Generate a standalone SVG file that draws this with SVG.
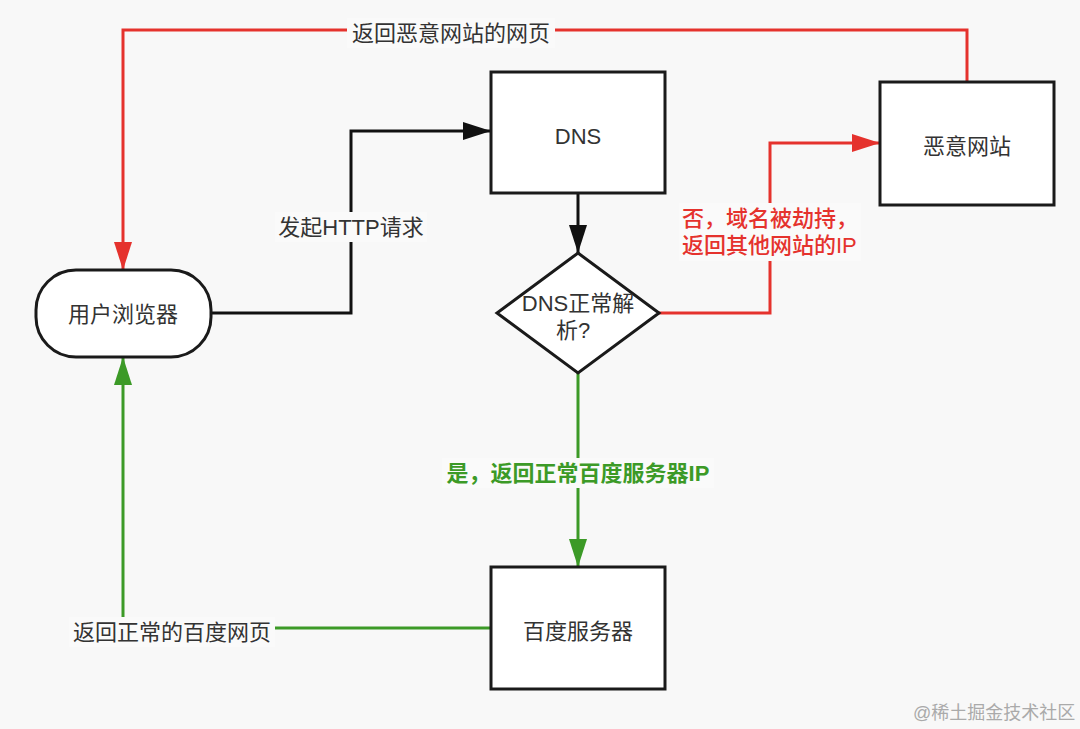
<svg xmlns="http://www.w3.org/2000/svg" width="1080" height="729" viewBox="0 0 1080 729">
<style>
text{font-family:"Liberation Sans","Noto Sans CJK SC",sans-serif;font-size:22px;fill:#333}
.node{fill:#fff;stroke:#1a1a1a;stroke-width:3}
.c{fill:none;stroke-width:3;stroke-linejoin:miter}
.k{stroke:#111}
.r{stroke:#e5322d}
.g{stroke:#3c9a27}
.lbg{fill:#fafafa}
.mid{text-anchor:middle;dominant-baseline:central}
</style>
<defs>
<marker id="ak" markerUnits="userSpaceOnUse" markerWidth="28" markerHeight="18" refX="28" refY="9" orient="auto"><path d="M0,0L28,9L0,18z" fill="#111"/></marker>
<marker id="ar" markerUnits="userSpaceOnUse" markerWidth="28" markerHeight="18" refX="28" refY="9" orient="auto"><path d="M0,0L28,9L0,18z" fill="#e5322d"/></marker>
<marker id="ag" markerUnits="userSpaceOnUse" markerWidth="28" markerHeight="18" refX="28" refY="9" orient="auto"><path d="M0,0L28,9L0,18z" fill="#3c9a27"/></marker>
</defs>
<rect width="1080" height="729" fill="#f8f8f8"/>
<g id="connectors">
<path class="c k" d="M211,313H351V131H491" marker-end="url(#ak)"/>
<path class="c k" d="M578,193V253" marker-end="url(#ak)"/>
<path class="c r" d="M659,313H770V143H880" marker-end="url(#ar)"/>
<path class="c r" d="M967,82V30H123V270" marker-end="url(#ar)"/>
<path class="c g" d="M578,373V567" marker-end="url(#ag)"/>
<path class="c g" d="M491,628H123V357" marker-end="url(#ag)"/>
<rect class="lbg" x="275" y="212" width="152" height="30"/>
<text class="mid" x="351" y="227">发起HTTP请求</text>
<rect class="lbg" x="347" y="18" width="208" height="30"/>
<text class="mid" x="451" y="33">返回恶意网站的网页</text>
<rect class="lbg" x="679" y="203" width="182" height="58"/>
<text x="682" y="226" style="fill:#e5322d;font-weight:500">否，域名被劫持，</text>
<text x="682" y="253" style="fill:#e5322d;font-weight:500">返回其他网站的IP</text>
<rect class="lbg" x="442" y="458" width="272" height="30"/>
<text class="mid" x="578" y="473" style="fill:#3c9a27;font-weight:bold">是，返回正常百度服务器IP</text>
<rect class="lbg" x="69" y="617" width="206" height="30"/>
<text class="mid" x="172" y="632">返回正常的百度网页</text>
</g>
<g id="browser">
<rect class="node" x="36" y="270" width="175" height="87" rx="40" ry="40"/>
<text class="mid" x="123" y="314">用户浏览器</text>
</g>
<g id="dns">
<rect class="node" x="491" y="72" width="174" height="121"/>
<text class="mid" x="578" y="136">DNS</text>
</g>
<g id="decision">
<polygon class="node" points="578,253 659,313 578,373 497,313"/>
<text class="mid" x="578" y="303">DNS正常解</text>
<text class="mid" x="573" y="330">析?</text>
</g>
<g id="malicious">
<rect class="node" x="880" y="82" width="174" height="123"/>
<text class="mid" x="967" y="146">恶意网站</text>
</g>
<g id="baidu">
<rect class="node" x="491" y="567" width="174" height="122"/>
<text class="mid" x="578" y="631">百度服务器</text>
</g>
<text x="913" y="719" style="fill:#aaa;font-size:18px">@稀土掘金技术社区</text>
</svg>
